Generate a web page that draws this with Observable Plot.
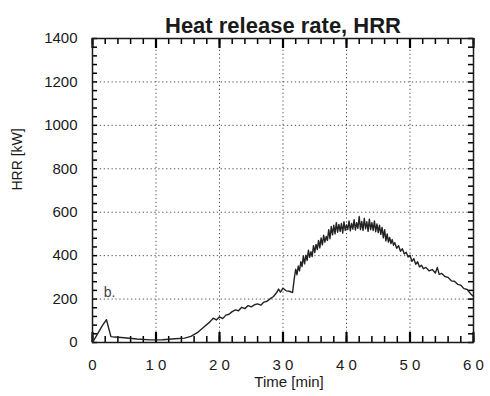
<!DOCTYPE html>
<html>
<head>
<meta charset="utf-8">
<script src="https://cdn.jsdelivr.net/npm/d3@7"></script>
<script src="https://cdn.jsdelivr.net/npm/@observablehq/plot@0.6"></script>
<style>
  html, body { margin: 0; padding: 0; background: #fff; }
</style>
</head>
<body>
<div id="chart"></div>
<script>
// Time [min]
const time = [
  0, 0.5, 1, 1.5, 2.2, 2.9, 3.5, 5, 7, 9,
  11, 13, 14.5, 15.5, 16.5, 17.5, 18.5, 19, 19.5, 20,
  20.5, 21, 21.5, 22, 22.5, 23, 23.5, 24, 24.5, 25,
  25.5, 26, 26.5, 27, 27.5, 28, 28.5, 29, 29.3, 29.6,
  30, 30.5, 31, 31.5,
  31.8, 32.0, 32.2, 32.4, 32.6, 32.8, 33.0, 33.2, 33.4, 33.6,
  33.8, 34.0, 34.2, 34.4, 34.6, 34.8, 35.0, 35.2, 35.4, 35.6,
  35.8, 36.0, 36.2, 36.4, 36.6, 36.8, 37.0, 37.2, 37.4, 37.6,
  37.8, 38.0, 38.2, 38.4, 38.6, 38.8, 39.0, 39.2, 39.4, 39.6,
  39.8, 40.0, 40.2, 40.4, 40.6, 40.8, 41.0, 41.2, 41.4, 41.6,
  41.8, 42.0, 42.2, 42.4, 42.6, 42.8, 43.0, 43.2, 43.4, 43.6,
  43.8, 44.0, 44.2, 44.4, 44.6, 44.8, 45.0, 45.2, 45.4, 45.6,
  45.8, 46.0, 46.2, 46.4, 46.6, 46.8, 47.0, 47.2, 47.4, 47.6,
  47.9, 48.2, 48.5, 48.8, 49.1, 49.4, 49.7, 50, 50.3, 50.6,
  50.9, 51.2, 51.5, 51.8, 52.1, 52.5, 53, 53.5, 54, 54.3,
  54.6, 55, 55.5, 56, 56.5, 57, 57.5, 58, 58.5, 59,
  59.5, 60
];
// HRR [kW]
const hrr = [
  0, 25, 50, 75, 105, 27, 25, 22, 16, 12,
  13, 17, 20, 28, 45, 70, 95, 112, 104, 118,
  110, 126, 130, 142, 150, 146, 162, 156, 170, 164,
  174, 178, 172, 186, 190, 202, 212, 230, 246, 232,
  250, 238, 236, 230,
  300, 338, 312, 352, 330, 372, 350, 398, 362, 402,
  378, 425, 392, 418, 396, 446, 414, 452, 428, 470,
  436, 482, 450, 494, 462, 488, 470, 520, 478, 534,
  496, 540, 500, 552, 508, 544, 512, 548, 504, 556,
  516, 542, 520, 560, 514, 548, 522, 566, 518, 552,
  526, 580, 520, 558, 516, 572, 524, 556, 512, 568,
  520, 552, 516, 560, 510, 546, 506, 540, 498, 530,
  482, 520, 468, 500, 462, 484, 456, 474, 448, 460,
  434, 446, 420, 432, 408, 416, 394, 402, 374, 386,
  360, 372, 348, 356, 340, 346, 330, 336, 320, 346,
  314, 318, 304, 300, 284, 282, 268, 264, 248, 244,
  226, 212
];

const xTicks = [0, 10, 20, 30, 40, 50, 60];
const xTickLabels = ["0", "1 0", "2 0", "3 0", "4 0", "5 0", "6 0"];
const yTicks = [0, 200, 400, 600, 800, 1000, 1200, 1400];
const yTickLabels = ["0", "200", "400", "600", "800", "1000", "1200", "1400"];
const xMinor = [0, 2, 4, 6, 8, 10, 12, 14, 16, 18, 20, 22, 24, 26, 28, 30, 32, 34, 36, 38, 40, 42, 44, 46, 48, 50, 52, 54, 56, 58, 60];
const yMinor = [0, 40, 80, 120, 160, 200, 240, 280, 320, 360, 400, 440, 480, 520, 560, 600, 640, 680, 720, 760, 800, 840, 880, 920, 960, 1000, 1040, 1080, 1120, 1160, 1200, 1240, 1280, 1320, 1360, 1400];

const titleText = "Heat release rate, HRR";
const xLabel = "Time [min]";
const yLabel = "HRR [kW]";
const note = {t: 2.7, v: 230, text: "b."};

const data = time.map((t, i) => ({t, v: hrr[i]}));

const W = 490, H = 396, mL = 92, mR = 17, mT = 38, mB = 54;
const fw = W - mL - mR, fh = H - mT - mB;
const xDom = [0, 60], yDom = [0, 1400];
// tick lengths given in pixels, converted to data units
const px2y = p => p * (yDom[1] - yDom[0]) / fh;
const px2x = p => p * (xDom[1] - xDom[0]) / fw;

const ink = "#1a1a1a";
const gridStyle = {stroke: "#555", strokeOpacity: 1, strokeWidth: 1, strokeDasharray: "1.3,2.6"};

const chart = Plot.plot({
  width: W,
  height: H,
  marginLeft: mL,
  marginRight: mR,
  marginTop: mT,
  marginBottom: mB,
  style: {fontFamily: "'Liberation Sans', Arial, sans-serif", background: "#fff", color: ink},
  x: {domain: xDom},
  y: {domain: yDom},
  marks: [
    Plot.gridX(xTicks, gridStyle),
    Plot.gridY(yTicks, gridStyle),
    // inward minor ticks
    Plot.ruleX(xMinor, {x: d => d, y1: yDom[0], y2: yDom[0] + px2y(6), stroke: "#000", strokeWidth: 1.5}),
    Plot.ruleX(xMinor, {x: d => d, y1: yDom[1], y2: yDom[1] - px2y(6), stroke: "#000", strokeWidth: 1.5}),
    Plot.ruleY(yMinor, {y: d => d, x1: xDom[0], x2: xDom[0] + px2x(5), stroke: "#000", strokeWidth: 1.5}),
    Plot.ruleY(yMinor, {y: d => d, x1: xDom[1], x2: xDom[1] - px2x(5), stroke: "#000", strokeWidth: 1.5}),
    // inward major ticks
    Plot.ruleX(xTicks, {x: d => d, y1: yDom[0], y2: yDom[0] + px2y(10), stroke: "#000", strokeWidth: 2.2}),
    Plot.ruleX(xTicks, {x: d => d, y1: yDom[1], y2: yDom[1] - px2y(10), stroke: "#000", strokeWidth: 2.2}),
    Plot.frame({stroke: ink, strokeWidth: 1.5}),
    Plot.axisX(xTicks, {tickSize: 0, tickPadding: 17, fontSize: 15, tickFormat: d => xTickLabels[xTicks.indexOf(d)], label: null, color: ink}),
    Plot.axisY(yTicks, {tickSize: 0, tickPadding: 15, fontSize: 15, tickFormat: d => yTickLabels[yTicks.indexOf(d)], label: null, color: ink}),
    Plot.line(data, {x: "t", y: "v", stroke: "#222", strokeWidth: 1.4, strokeLinejoin: "round"}),
    Plot.text([note], {x: "t", y: "v", text: "text", fontSize: 14, fill: "#444"}),
    Plot.text([titleText], {frameAnchor: "top", dy: -21, fontSize: 22, fontWeight: "bold", fill: ink, text: d => d}),
    Plot.text([xLabel], {frameAnchor: "bottom", dy: 44, dx: 6, fontSize: 15, fill: ink, text: d => d}),
    Plot.text([yLabel], {frameAnchor: "left", dx: -75, rotate: -90, fontSize: 14, fill: ink, text: d => d})
  ]
});
document.getElementById("chart").appendChild(chart);
</script>
</body>
</html>
